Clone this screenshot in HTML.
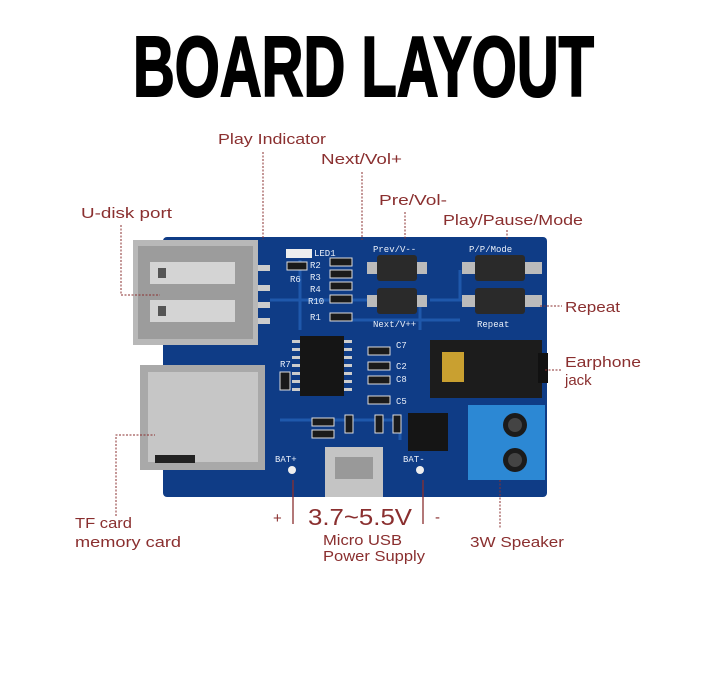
<!DOCTYPE html>
<html><head><meta charset="utf-8"><style>
html,body{margin:0;padding:0;background:#fff;}
svg{display:block}
.l{font-family:"Liberation Sans",sans-serif;font-size:15px;fill:#8a2f2f}
.d{stroke:#8a2f2f;stroke-width:1;stroke-dasharray:2 1.5;fill:none}
.s{font-family:"Liberation Mono",monospace;font-size:9px;fill:#e8eef8}
</style></head><body>
<svg width="720" height="699" viewBox="0 0 720 699" xmlns="http://www.w3.org/2000/svg">
<rect width="720" height="699" fill="#fff"/>
<text x="133" y="96" font-size="85" textLength="461" lengthAdjust="spacingAndGlyphs" fill="#000" stroke="#000" stroke-width="2" style="font-family:'Liberation Sans Narrow','Liberation Sans',sans-serif;font-weight:bold">BOARD LAYOUT</text>

<rect x="163" y="237" width="384" height="260" rx="4" fill="#0f3c86"/>
<g stroke="#2360b5" stroke-width="3" fill="none" opacity="0.8">
<path d="M270 300 H420 V330"/><path d="M350 320 H460"/><path d="M280 420 H400 V440"/><path d="M430 300 H540"/><path d="M300 260 V330"/><path d="M460 270 V300"/>
</g>
<rect x="133" y="240" width="125" height="105" fill="#b8b8b8"/>
<rect x="138" y="246" width="115" height="93" fill="#9c9c9c"/>
<rect x="150" y="262" width="85" height="22" fill="#d4d4d4"/><rect x="150" y="300" width="85" height="22" fill="#d4d4d4"/>
<rect x="158" y="268" width="8" height="10" fill="#555"/><rect x="158" y="306" width="8" height="10" fill="#555"/>
<g fill="#ccc"><rect x="258" y="265" width="12" height="6"/><rect x="258" y="285" width="12" height="6"/><rect x="258" y="302" width="12" height="6"/><rect x="258" y="318" width="12" height="6"/></g>
<rect x="140" y="365" width="125" height="105" fill="#a9a9a9"/>
<rect x="148" y="372" width="110" height="90" fill="#c6c6c6"/>
<rect x="155" y="455" width="40" height="8" fill="#222"/>
<text class="s" x="373" y="252">Prev/V--</text><text class="s" x="469" y="252">P/P/Mode</text>
<text class="s" x="373" y="327">Next/V++</text><text class="s" x="477" y="327">Repeat</text>
<text class="s" x="314" y="256" font-size="7">LED1</text>
<text class="s" x="290" y="282" font-size="7">R6</text><text class="s" x="310" y="268" font-size="7">R2</text><text class="s" x="310" y="280" font-size="7">R3</text><text class="s" x="310" y="292" font-size="7">R4</text><text class="s" x="308" y="304" font-size="7">R10</text><text class="s" x="310" y="320" font-size="7">R1</text>
<text class="s" x="280" y="367" font-size="7">R7</text><text class="s" x="396" y="348" font-size="7">C7</text><text class="s" x="396" y="369" font-size="7">C2</text><text class="s" x="396" y="382" font-size="7">C8</text><text class="s" x="396" y="404" font-size="7">C5</text>
<text class="s" x="275" y="462">BAT+</text><text class="s" x="403" y="462">BAT-</text>
<rect x="286" y="249" width="26" height="9" fill="#eee"/>
<g fill="#1a1a1a" stroke="#ddd" stroke-width="1">
<rect x="330" y="258" width="22" height="8"/><rect x="330" y="270" width="22" height="8"/><rect x="330" y="282" width="22" height="8"/><rect x="330" y="295" width="22" height="8"/><rect x="330" y="313" width="22" height="8"/>
<rect x="287" y="262" width="20" height="8"/>
<rect x="368" y="347" width="22" height="8"/><rect x="368" y="362" width="22" height="8"/><rect x="368" y="376" width="22" height="8"/><rect x="368" y="396" width="22" height="8"/>
<rect x="280" y="372" width="10" height="18"/><rect x="312" y="418" width="22" height="8"/><rect x="312" y="430" width="22" height="8"/><rect x="345" y="415" width="8" height="18"/><rect x="375" y="415" width="8" height="18"/><rect x="393" y="415" width="8" height="18"/>
</g>
<g>
<rect x="367" y="262" width="60" height="12" fill="#bbb"/><rect x="377" y="255" width="40" height="26" rx="3" fill="#2a2a2a"/>
<rect x="462" y="262" width="80" height="12" fill="#bbb"/><rect x="475" y="255" width="50" height="26" rx="3" fill="#2a2a2a"/>
<rect x="367" y="295" width="60" height="12" fill="#bbb"/><rect x="377" y="288" width="40" height="26" rx="3" fill="#2a2a2a"/>
<rect x="462" y="295" width="80" height="12" fill="#bbb"/><rect x="475" y="288" width="50" height="26" rx="3" fill="#2a2a2a"/>
</g>
<g fill="#ccc"><rect x="292" y="340" width="60" height="3"/><rect x="292" y="348" width="60" height="3"/><rect x="292" y="356" width="60" height="3"/><rect x="292" y="364" width="60" height="3"/><rect x="292" y="372" width="60" height="3"/><rect x="292" y="380" width="60" height="3"/><rect x="292" y="388" width="60" height="3"/></g>
<rect x="300" y="336" width="44" height="60" fill="#151515"/>
<rect x="408" y="413" width="40" height="38" fill="#151515"/>
<rect x="430" y="340" width="112" height="58" fill="#1c1c1c"/>
<rect x="442" y="352" width="22" height="30" fill="#c9a030"/>
<rect x="538" y="353" width="10" height="30" fill="#111"/>
<rect x="468" y="405" width="77" height="75" fill="#2c88d4"/>
<circle cx="515" cy="425" r="12" fill="#1b1b1b"/><circle cx="515" cy="460" r="12" fill="#1b1b1b"/>
<circle cx="515" cy="425" r="7" fill="#444"/><circle cx="515" cy="460" r="7" fill="#444"/>
<rect x="325" y="447" width="58" height="50" fill="#c4c4c4"/>
<rect x="335" y="457" width="38" height="22" fill="#999"/>
<circle cx="292" cy="470" r="4" fill="#eee"/><circle cx="420" cy="470" r="4" fill="#eee"/>

<path class="d" d="M263 152 V240"/>
<path class="d" d="M362 172 V240"/>
<path class="d" d="M405 212 V240"/>
<path class="d" d="M507 230 V240"/>
<path class="d" d="M121 225 V295 H160"/>
<path class="d" d="M540 306 H562"/>
<path class="d" d="M545 370 H562"/>
<path class="d" d="M116 516 V435 H155"/>
<path class="d" d="M500 480 V528"/>
<path d="M293 480 V524 M423 480 V524" stroke="#8a2f2f" stroke-width="1.3"/>

<text class="l" x="218" y="144" textLength="108" lengthAdjust="spacingAndGlyphs">Play Indicator</text>
<text class="l" x="321" y="164" textLength="81" lengthAdjust="spacingAndGlyphs">Next/Vol+</text>
<text class="l" x="379" y="205" textLength="68" lengthAdjust="spacingAndGlyphs">Pre/Vol-</text>
<text class="l" x="81" y="218" textLength="91" lengthAdjust="spacingAndGlyphs">U-disk port</text>
<text class="l" x="443" y="225" textLength="140" lengthAdjust="spacingAndGlyphs">Play/Pause/Mode</text>
<text class="l" x="565" y="312" textLength="55" lengthAdjust="spacingAndGlyphs">Repeat</text>
<text class="l" x="565" y="367" textLength="76" lengthAdjust="spacingAndGlyphs">Earphone</text>
<text class="l" x="565" y="385">jack</text>
<text class="l" x="75" y="528" textLength="57" lengthAdjust="spacingAndGlyphs">TF card</text>
<text class="l" x="75" y="547" textLength="106" lengthAdjust="spacingAndGlyphs">memory card</text>
<text class="l" x="273" y="523">+</text>
<text x="308" y="525" style="font-family:'Liberation Sans',sans-serif;font-size:23px;fill:#8a2f2f" textLength="104" lengthAdjust="spacingAndGlyphs">3.7~5.5V</text>
<text class="l" x="435" y="522">-</text>
<text class="l" x="323" y="545" textLength="79" lengthAdjust="spacingAndGlyphs">Micro USB</text>
<text class="l" x="323" y="561" textLength="102" lengthAdjust="spacingAndGlyphs">Power Supply</text>
<text class="l" x="470" y="547" textLength="94" lengthAdjust="spacingAndGlyphs">3W Speaker</text>
</svg>
</body></html>
